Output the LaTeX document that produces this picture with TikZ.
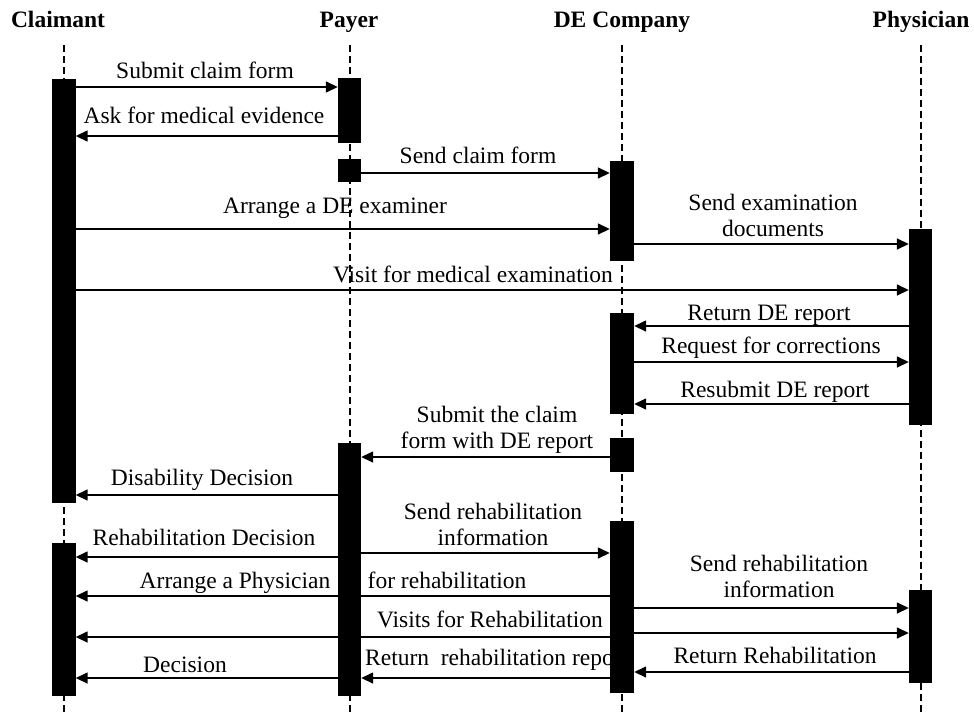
\documentclass[tikz,border=0pt]{standalone}
\usepackage{fontspec}
\setmainfont{Liberation Serif}
\usetikzlibrary{arrows.meta, fit}

\begin{document}
\begin{tikzpicture}
    [x=1pt, y=-1pt,
    % Styles
    every node/.append style={font=\fontsize{23.5}{25.5}\selectfont},
    lifeline/.style={line width=1.5pt, dash pattern=on 7pt off 4pt},
    activation box/.style={fill=black, inner sep=0pt, outer sep=0pt},
    message line/.style={line width=1.5pt, -{Triangle[length=12pt, width=11pt]}},
    actor text/.style={font=\fontsize{23.5}{25.5}\selectfont\bfseries, anchor=base},
    message text/.style={anchor=base, align=center, inner sep=0pt}]

    \useasboundingbox (0,0) rectangle (974,715);

    % Actors
    \node[actor text] (claimant) at (58,27) {Claimant};
    \node[actor text] (payer) at (349,27) {Payer};
    \node[actor text] (de company) at (622,27) {DE Company};
    \node[actor text] (physician) at (921,27) {Physician};

    % Lifelines
    \foreach \x in {64, 350, 622, 921}
        \draw[lifeline] (\x,45) -- (\x,715);

    % Activation boxes (lifeline order: claimant, payer, DE company, physician)
    \path[use as bounding box=false]
        node[fit={(52.5,79) (75.5,503)}, inner sep=0pt] (claimant box 1) {}
        node[fit={(52.5,543) (75.5,696)}, inner sep=0pt] (claimant box 2) {}
        node[fit={(338,78) (361,143)}, inner sep=0pt] (payer box 1) {}
        node[fit={(338,159) (361,182)}, inner sep=0pt] (payer box 2) {}
        node[fit={(338,443) (361,696)}, inner sep=0pt] (payer box 3) {}
        node[fit={(610,161) (634,261)}, inner sep=0pt] (de box 1) {}
        node[fit={(610,313) (634,414)}, inner sep=0pt] (de box 2) {}
        node[fit={(610,438) (634,472)}, inner sep=0pt] (de box 3) {}
        node[fit={(610,521) (634,693)}, inner sep=0pt] (de box 4) {}
        node[fit={(909,229) (932,425)}, inner sep=0pt] (physician box 1) {}
        node[fit={(909,590) (932,683)}, inner sep=0pt] (physician box 2) {};

    % Messages
    \draw[message line] (claimant box 1.east |- 0,87) -- (payer box 1.west |- 0,87);
    \node[message text] (submit text) at (205,78) {Submit claim form};

    \draw[message line] (payer box 1.west |- 0,136) -- (claimant box 1.east |- 0,136);
    \node[message text] (ask text) at (204,123) {Ask for medical evidence};

    \draw[message line] (payer box 2.east |- 0,173) -- (de box 1.west |- 0,173);
    \node[message text] (send claim text) at (478,163) {Send claim form};

    \draw[message line] (claimant box 1.east |- 0,229) -- (de box 1.west |- 0,229);
    \node[message text] (arrange text) at (335,213) {Arrange a DE examiner};

    \draw[message line] (de box 1.east |- 0,244) -- (physician box 1.west |- 0,244);
    \node[message text] (documents text) at (773,236) {Send examination\\documents};

    \draw[message line] (claimant box 1.east |- 0,290) -- (physician box 1.west |- 0,290);
    \node[message text] (visit text) at (473,282) {Visit for medical examination};

    \draw[message line] (physician box 1.west |- 0,326) -- (de box 2.east |- 0,326);
    \node[message text] (return text) at (769,320) {Return DE report};

    \draw[message line] (de box 2.east |- 0,362) -- (physician box 1.west |- 0,362);
    \node[message text] (request text) at (771,353) {Request for corrections};

    \draw[message line] (physician box 1.west |- 0,404) -- (de box 2.east |- 0,404);
    \node[message text] (resubmit text) at (775,397) {Resubmit DE report};

    \draw[message line] (de box 3.west |- 0,457) -- (payer box 3.east |- 0,457);
    \node[message text] (report text) at (497,448) {Submit the claim\\form with DE report};

    \draw[message line] (payer box 3.west |- 0,495) -- (claimant box 1.east |- 0,495);
    \node[message text] (disability text) at (202,485) {Disability Decision};

    \draw[message line] (payer box 3.west |- 0,557) -- (claimant box 2.east |- 0,557);
    \node[message text] (rehab decision text) at (204,545) {Rehabilitation Decision};

    \draw[message line] (payer box 3.east |- 0,553) -- (de box 4.west |- 0,553);
    \node[message text] (rehab info text) at (493,545) {Send rehabilitation\\information};

    \draw[message line] (de box 4.west |- 0,596) -- (claimant box 2.east |- 0,596);
    \node[message text] (physician text) at (235,588) {Arrange a Physician};
    \node[message text] (for rehab text) at (447,588) {for rehabilitation};

    \draw[message line] (de box 4.east |- 0,608) -- (physician box 2.west |- 0,608);
    \node[message text] (rehab info text 2) at (779,597) {Send rehabilitation\\information};

    \draw[message line] (de box 4.west |- 0,637) -- (claimant box 2.east |- 0,637);
    \draw[message line] (de box 4.east |- 0,633) -- (physician box 2.west |- 0,633);
    \node[message text] (visits text) at (490,627) {Visits for Rehabilitation};

    \draw[message line] (payer box 3.west |- 0,678) -- (claimant box 2.east |- 0,678);
    \node[message text] (decision text) at (185,672) {Decision};

    \draw[message line] (de box 4.west |- 0,678) -- (payer box 3.east |- 0,678);
    \node[message text, anchor=base west] (rehab report text) at (365,665) {Return\ \ rehabilitation report};

    \draw[message line] (physician box 2.west |- 0,672) -- (de box 4.east |- 0,672);
    \node[message text] (rehab return text) at (775,663) {Return Rehabilitation};

    % Boxes on top
    \foreach \b in {claimant box 1, claimant box 2, payer box 1, payer box 2, payer box 3,
                    de box 1, de box 2, de box 3, de box 4, physician box 1, physician box 2}
        \fill (\b.north west) rectangle (\b.south east);

\end{tikzpicture}
\end{document}
